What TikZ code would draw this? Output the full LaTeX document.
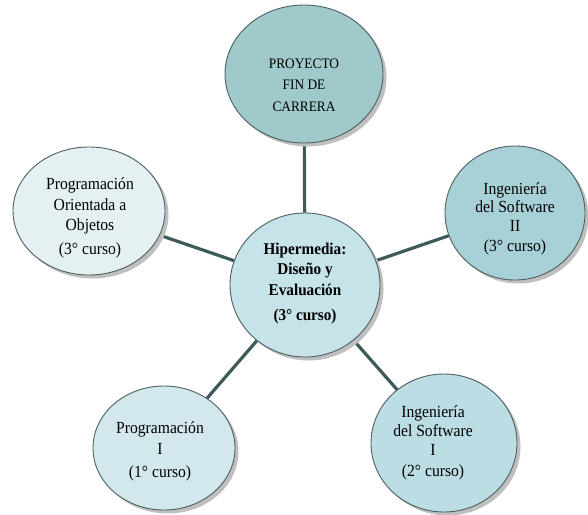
\documentclass[tikz,border=0pt]{standalone}
\usepackage{fontspec}
\setmainfont{Liberation Serif}
\newfontfamily\cf[FakeStretch=0.92]{Liberation Serif}
\usetikzlibrary{shapes.geometric,shadows,backgrounds}
\definecolor{ctop}{HTML}{A0C9CC}
\definecolor{ccen}{HTML}{C5E3E9}
\definecolor{cleft}{HTML}{E5F0F2}
\definecolor{cright}{HTML}{A8D1D7}
\definecolor{cbl}{HTML}{D2E8ED}
\definecolor{cbr}{HTML}{BCDDE4}
\definecolor{cout}{HTML}{4D5F60}
\definecolor{cline}{HTML}{3E5A5B}
\tikzset{
  bubble/.style={ellipse, draw=cout, line width=0.9pt, inner sep=0pt,
    drop shadow={shadow xshift=3.5pt, shadow yshift=-3.5pt, fill=black!25, opacity=1}},
  lbl/.style={align=center, font=\cf\fontsize{17}{20.5}\selectfont, text=black},
  link/.style={draw=cline, line width=3.2pt}
}
\begin{document}
\begin{tikzpicture}[x=1pt,y=-1pt]
\useasboundingbox (0,0) rectangle (588,514);
% circles
\node[bubble, fill=ctop, minimum width=158pt, minimum height=138pt] (top) at (304,74) {};
\node[bubble, fill=ccen, minimum width=150pt, minimum height=144pt] (cen) at (305,285) {};
\node[bubble, fill=cleft, minimum width=152pt, minimum height=128pt] (left) at (89,211) {};
\node[bubble, fill=cright, minimum width=140pt, minimum height=134pt] (right) at (515,213) {};
\node[bubble, fill=cbl, minimum width=142pt, minimum height=124pt] (bl) at (164,448) {};
\node[bubble, fill=cbr, minimum width=146pt, minimum height=138pt] (br) at (444,443) {};
% connectors
\begin{scope}[on background layer]
\path[link] (cen) -- (top);
\path[link] (cen.center) -- (left.center);
\path[link] (cen.center) -- (right.center);
\path[link] (cen.center) -- (bl.center);
\path[link] (cen.center) -- (br.center);
\end{scope}
% texts
\node[lbl, font=\cf\fontsize{14.5}{21.5}\selectfont] (ttop) at (304,85) {PROYECTO\\FIN DE\\CARRERA};
\node[lbl, font=\cf\bfseries\fontsize{16.5}{20.5}\selectfont] (tcen) at (305,269) {Hipermedia:\\Diseño y\\Evaluación};
\node[lbl, font=\cf\bfseries\fontsize{16.5}{20.5}\selectfont] (tcen2) at (305,317) {(3° curso)};
\node[lbl] (tleft) at (90,206) {Programación\\Orientada a\\Objetos};
\node[lbl] (tleft2) at (90,250) {(3° curso)};
\node[lbl, font=\cf\fontsize{17}{18.5}\selectfont] (tright) at (515,207) {Ingeniería\\del Software\\II};
\node[lbl] (tright2) at (515,247) {(3° curso)};
\node[lbl] (tbl) at (160,438) {Programación\\I};
\node[lbl] (tbl2) at (160,473) {(1° curso)};
\node[lbl, font=\cf\fontsize{17}{19}\selectfont] (tbr) at (433,431) {Ingeniería\\del Software\\I};
\node[lbl] (tbr2) at (433,472) {(2° curso)};
\end{tikzpicture}
\end{document}
